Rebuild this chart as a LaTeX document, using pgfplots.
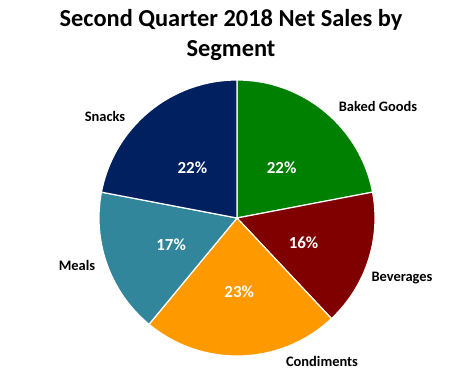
\documentclass[border=0pt]{standalone}
\usepackage{pgfplots}
\pgfplotsset{compat=1.18}
\usepackage{pgfplotstable}
\usetikzlibrary{calc}
\usepackage{fontspec}
\setmainfont{Carlito}
\definecolor{cBaked}{HTML}{008000}
\definecolor{cBev}{HTML}{800000}
\definecolor{cCond}{HTML}{FF9900}
\definecolor{cMeals}{HTML}{31869B}
\definecolor{cSnacks}{HTML}{002060}
% segment, share (%), colour, outside label position (x, y in axis units)
\pgfplotstableread[col sep=comma]{
segment,value,color,lx,ly
Baked Goods,22,cBaked,378,267
Beverages,16,cBev,402,95
Condiments,23,cCond,322,12
Meals,17,cMeals,77,108
Snacks,22,cSnacks,105,257
}\salesdata
\begin{document}
\begin{tikzpicture}
\begin{axis}[
  x=1bp, y=1bp,
  xmin=0, xmax=463, ymin=0, ymax=373,
  hide axis, clip=false,
  scale only axis,
]
\addplot[draw=none, forget plot] coordinates {(0,0) (463,373)};
\pgfplotsextra{
  \pgfplotstablegetrowsof{\salesdata}
  \pgfmathtruncatemacro\nrows{\pgfplotsretval-1}
  \gdef\piestart{90}
  \foreach \i in {0,...,\nrows}{
    \pgfplotstablegetelem{\i}{value}\of\salesdata
    \pgfmathsetmacro\v{\pgfplotsretval}
    \pgfmathtruncatemacro\vi{round(\v)}
    \pgfplotstablegetelem{\i}{color}\of\salesdata
    \edef\c{\pgfplotsretval}
    \pgfmathsetmacro\e{\piestart-3.6*\v}
    \pgfmathsetmacro\m{(\piestart+\e)/2}
    \fill[\c, draw=white, line width=1.2pt, line join=round]
      (axis cs:237,155) -- ++(\piestart:138bp)
      arc[start angle=\piestart, end angle=\e, radius=138bp] -- cycle;
    \node[text=white, font=\fontsize{17}{20}\selectfont\bfseries, yshift=-3.5bp]
      at ($(axis cs:237,155)+(\m:70bp)$) {\vi\%};
    \pgfplotstablegetelem{\i}{segment}\of\salesdata
    \edef\s{\pgfplotsretval}
    \pgfplotstablegetelem{\i}{lx}\of\salesdata
    \edef\lx{\pgfplotsretval}
    \pgfplotstablegetelem{\i}{ly}\of\salesdata
    \edef\ly{\pgfplotsretval}
    \node[font=\fontsize{14.5}{17}\selectfont\bfseries] at (axis cs:\lx,\ly) {\s};
    \xdef\piestart{\e}
  }
  \node[font=\fontsize{24.5}{29.5}\selectfont\bfseries, align=center]
    at (axis cs:231,338) {Second Quarter 2018 Net Sales by\\Segment};
}
\end{axis}
\end{tikzpicture}
\end{document}
